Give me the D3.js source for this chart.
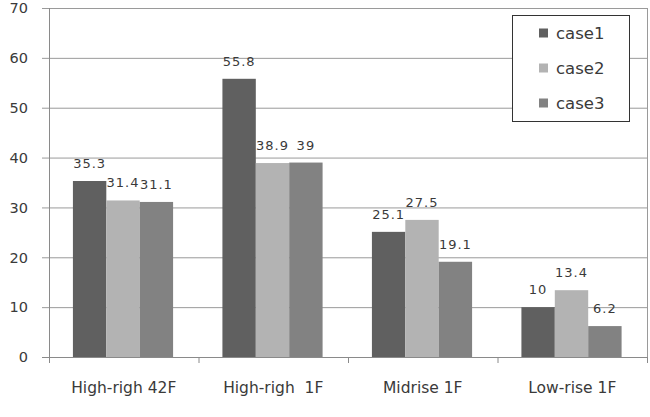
<!DOCTYPE html>
<html lang="en">
<head>
<meta charset="UTF-8">
<script src="https://d3js.org/d3.v7.min.js"></script>
<title>Chart</title>
<style>
  body { margin: 0; background: #fff; }
  text { font-family: "DejaVu Sans", Verdana, sans-serif; fill: #3a3a3a; }
</style>
</head>
<body>
<svg id="chart" width="650" height="417"></svg>
<script>
// data
const categories = ["High-righ 42F", "High-righ  1F", "Midrise 1F", "Low-rise 1F"];
const seriesNames = ["case1", "case2", "case3"];
const case1 = [35.3, 55.8, 25.1, 10];
const case2 = [31.4, 38.9, 27.5, 13.4];
const case3 = [31.1, 39, 19.1, 6.2];
const yTicks = [0, 10, 20, 30, 40, 50, 60, 70];

const colors = ["#606060", "#b3b3b3", "#828282"];
const values = [case1, case2, case3];

const svg = d3.select("#chart");
const margin = {top: 8, right: 3, bottom: 60, left: 49};
const width = 650, height = 417;

const x = d3.scaleBand()
  .domain(categories)
  .range([margin.left, width - margin.right]);

const xInner = d3.scaleBand()
  .domain(seriesNames)
  .range([x.bandwidth() * 0.16, x.bandwidth() * 0.83]);

const y = d3.scaleLinear()
  .domain([0, 70])
  .range([height - margin.bottom, margin.top]);

// grid lines + y labels
svg.append("g").selectAll("line")
  .data(yTicks.slice(1))
  .join("line")
  .attr("x1", margin.left - 7)
  .attr("x2", width - margin.right)
  .attr("y1", d => y(d) + 0.5)
  .attr("y2", d => y(d) + 0.5)
  .attr("stroke", "#9a9a9a");

svg.append("g").selectAll("text")
  .data(yTicks)
  .join("text")
  .attr("x", 28)
  .attr("y", d => y(d))
  .attr("dy", "0.36em")
  .attr("text-anchor", "end")
  .style("font-size", "14.5px")
  .text(d => d);

// right border
svg.append("line")
  .attr("x1", width - margin.right + 0.5).attr("x2", width - margin.right + 0.5)
  .attr("y1", margin.top).attr("y2", y(0))
  .attr("stroke", "#9a9a9a");

// bars
const groups = svg.append("g").selectAll("g")
  .data(categories)
  .join("g")
  .attr("transform", d => `translate(${x(d)},0)`);

groups.each(function(cat, i) {
  const g = d3.select(this);
  seriesNames.forEach((s, j) => {
    const v = values[j][i];
    g.append("rect")
      .attr("x", xInner(s))
      .attr("y", y(v))
      .attr("width", xInner.bandwidth())
      .attr("height", y(0) - y(v))
      .attr("fill", colors[j]);
    g.append("text")
      .attr("x", xInner(s) + xInner.bandwidth() / 2)
      .attr("y", y(v) - 13)
      .attr("text-anchor", "middle")
      .style("font-size", "13px")
      .style("letter-spacing", "1px")
      .text(v);
  });
});

// axes lines
svg.append("line")
  .attr("x1", margin.left + 0.5).attr("x2", margin.left + 0.5)
  .attr("y1", margin.top).attr("y2", y(0) + 6)
  .attr("stroke", "#8a8a8a");
svg.append("line")
  .attr("x1", margin.left - 7).attr("x2", width - margin.right + 1)
  .attr("y1", y(0) + 0.5).attr("y2", y(0) + 0.5)
  .attr("stroke", "#8a8a8a");

// category tick marks
svg.append("g").selectAll("line")
  .data(categories.slice(1).concat(["end"]))
  .join("line")
  .attr("x1", d => (d === "end" ? width - margin.right : x(d)) + 0.5)
  .attr("x2", d => (d === "end" ? width - margin.right : x(d)) + 0.5)
  .attr("y1", y(0))
  .attr("y2", y(0) + 6)
  .attr("stroke", "#8a8a8a");

svg.append("g").selectAll("text")
  .data(categories)
  .join("text")
  .attr("x", d => x(d) + x.bandwidth() / 2)
  .attr("y", y(0) + 36)
  .attr("text-anchor", "middle")
  .style("font-size", "15.5px")
  .style("white-space", "pre")
  .attr("xml:space", "preserve")
  .text(d => d);

// legend
const legend = svg.append("g");
legend.append("rect")
  .attr("x", 512.5).attr("y", 15.5)
  .attr("width", 117).attr("height", 106)
  .attr("fill", "#fff")
  .attr("stroke", "#333");

const li = legend.selectAll("g")
  .data(seriesNames)
  .join("g")
  .attr("transform", (d, i) => `translate(539,${33 + i * 35})`);
li.append("rect")
  .attr("x", 0).attr("y", -4.5)
  .attr("width", 9).attr("height", 9)
  .attr("fill", (d, i) => colors[i]);
li.append("text")
  .attr("x", 17).attr("y", 0)
  .attr("dy", "0.36em")
  .style("font-size", "16.5px")
  .text(d => d);
</script>
</body>
</html>
